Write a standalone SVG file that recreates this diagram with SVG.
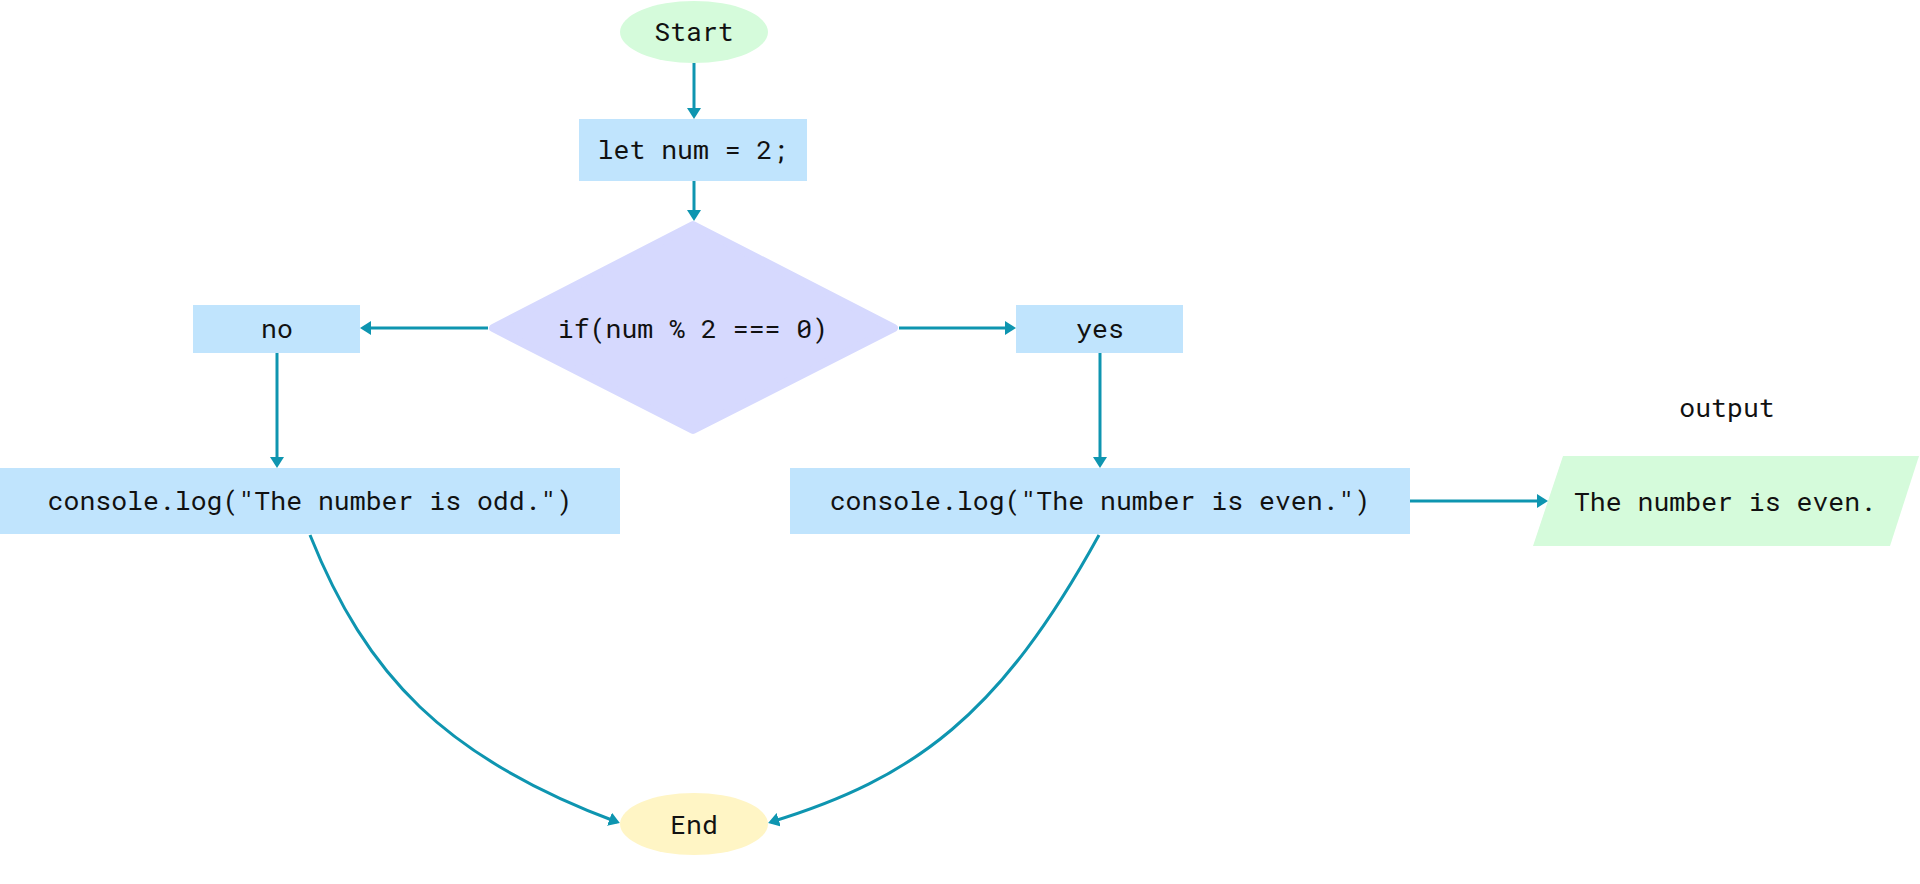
<svg xmlns="http://www.w3.org/2000/svg" width="1920" height="884" viewBox="0 0 1920 884">
  <defs>
    <style>
      .t { font-family: "Roboto Mono", "Liberation Mono", "DejaVu Sans Mono", monospace; font-size: 26.5px; fill: #111111; text-anchor: middle; dominant-baseline: central; }
      .box { fill: #c0e4fd; }
      .conn { fill: none; stroke: #0e95b0; stroke-width: 3; }
    </style>
    <marker id="arr" viewBox="0 0 11 14" refX="8" refY="7" markerWidth="11" markerHeight="14" markerUnits="userSpaceOnUse" orient="auto">
      <path d="M0,0 L11,7 L0,14 z" fill="#0e95b0"/>
    </marker>
  </defs>
  <rect width="1920" height="884" fill="#ffffff"/>

  <g id="start">
    <ellipse cx="694" cy="32" rx="74" ry="31" fill="#d5fbdb"/>
    <text class="t" x="694" y="30">Start</text>
  </g>
  <g id="init">
    <rect class="box" x="579" y="119" width="228" height="62"/>
    <text class="t" x="693" y="148">let num = 2;</text>
  </g>
  <g id="decision">
    <polygon points="693,225 894,328 693,430 493,328" fill="#d6d9fe" stroke="#d6d9fe" stroke-width="8" stroke-linejoin="round"/>
    <text class="t" x="693" y="327">if(num % 2 === 0)</text>
  </g>
  <g id="no">
    <rect class="box" x="193" y="305" width="167" height="48"/>
    <text class="t" x="277" y="327">no</text>
  </g>
  <g id="yes">
    <rect class="box" x="1016" y="305" width="167" height="48"/>
    <text class="t" x="1100" y="327">yes</text>
  </g>
  <g id="odd">
    <rect class="box" x="0" y="468" width="620" height="66"/>
    <text class="t" x="310" y="499">console.log("The number is odd.")</text>
  </g>
  <g id="even">
    <rect class="box" x="790" y="468" width="620" height="66"/>
    <text class="t" x="1100" y="499">console.log("The number is even.")</text>
  </g>
  <g id="output">
    <text class="t" x="1727" y="406">output</text>
    <polygon points="1563,456 1919,456 1890,546 1533,546" fill="#d5fbdb"/>
    <text class="t" x="1725" y="500">The number is even.</text>
  </g>
  <g id="end">
    <ellipse cx="694" cy="824" rx="74" ry="31" fill="#fff5c5"/>
    <text class="t" x="694" y="823">End</text>
  </g>

  <g id="connectors">
    <path class="conn" d="M694,63 L694,116" marker-end="url(#arr)"/>
    <path class="conn" d="M694,181 L694,218" marker-end="url(#arr)"/>
    <path class="conn" d="M488,328 L363,328" marker-end="url(#arr)"/>
    <path class="conn" d="M899,328 L1013,328" marker-end="url(#arr)"/>
    <path class="conn" d="M277,353 L277,465" marker-end="url(#arr)"/>
    <path class="conn" d="M1100,353 L1100,465" marker-end="url(#arr)"/>
    <path class="conn" d="M1410,501 L1545,501" marker-end="url(#arr)"/>
    <path class="conn" d="M310,535 C366,675 445,758 617,822" marker-end="url(#arr)"/>
    <path class="conn" d="M1099,535 C1000,715 915,778 771,822" marker-end="url(#arr)"/>
  </g>
</svg>
